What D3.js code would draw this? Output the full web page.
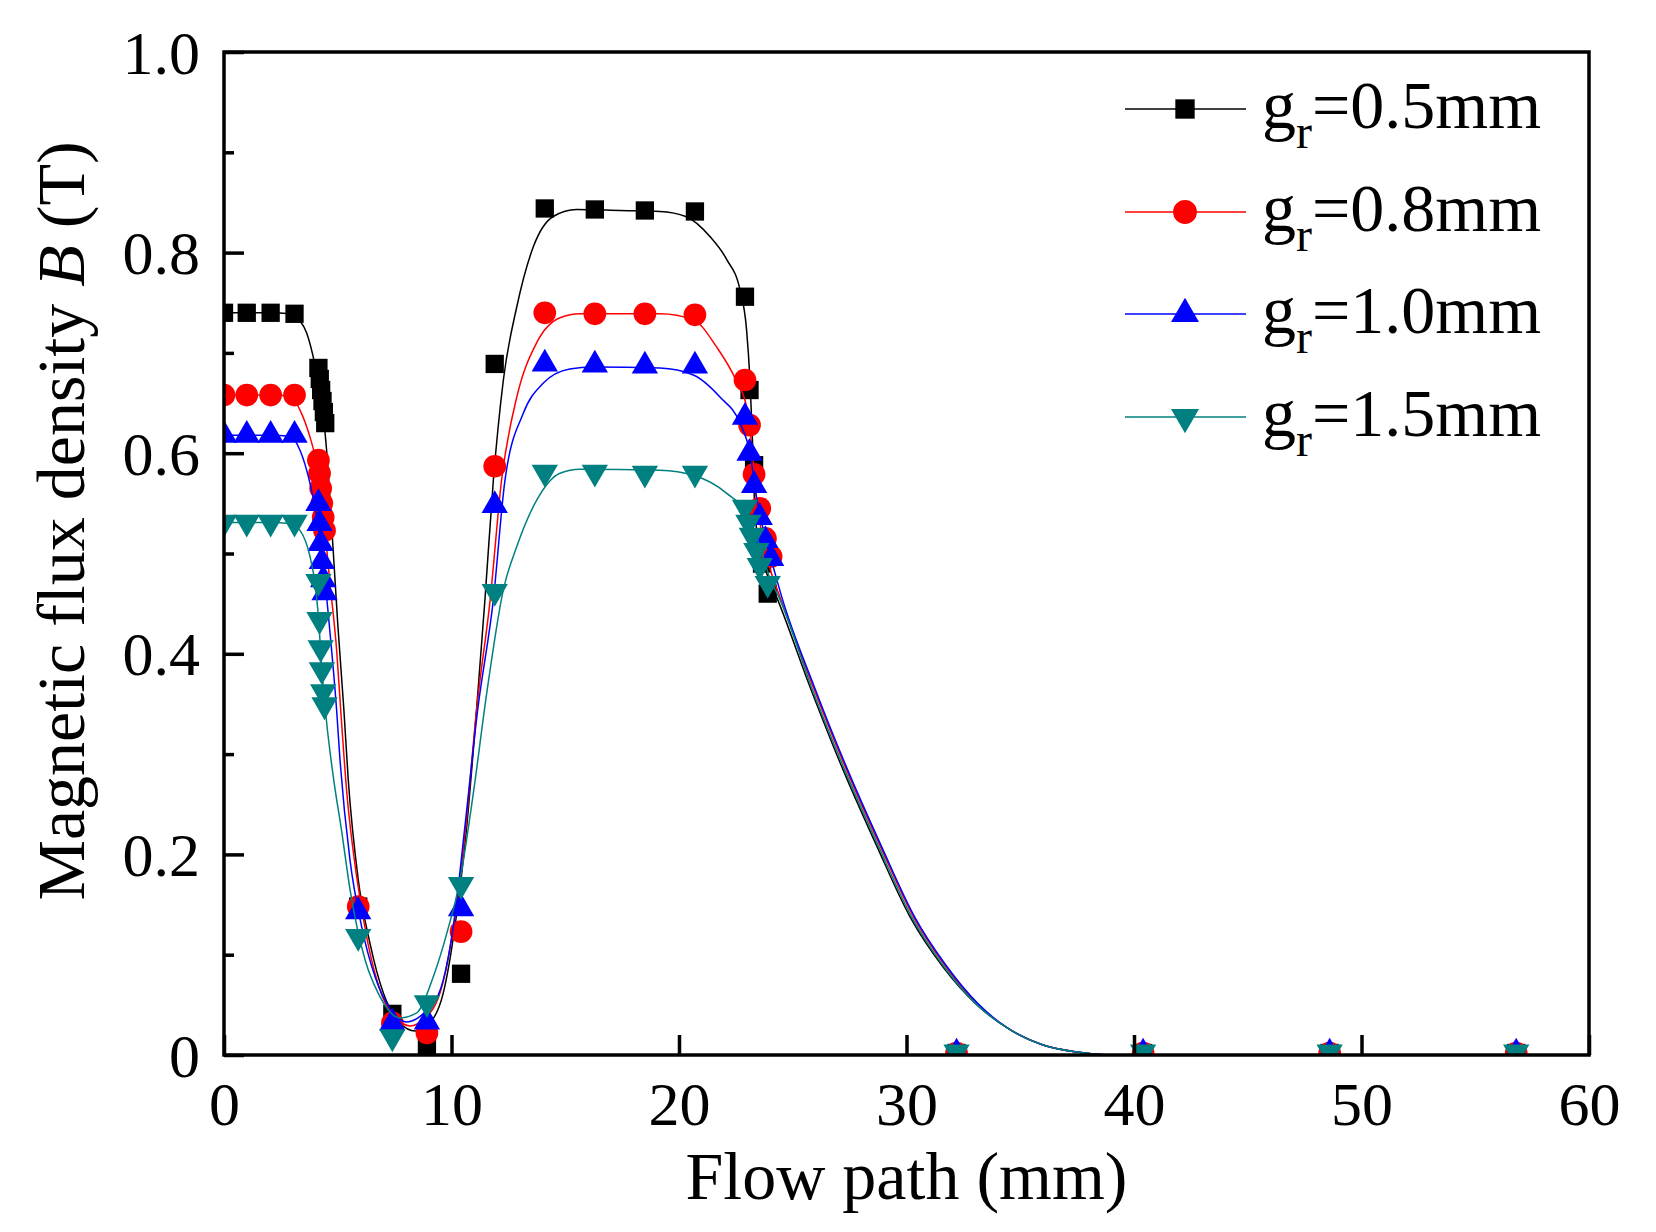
<!DOCTYPE html>
<html>
<head>
<meta charset="utf-8">
<script src="https://cdn.jsdelivr.net/npm/d3@7"></script>
<style>
  body { margin: 0; background: #fff; }
  svg text { font-family: "Liberation Serif", "Times New Roman", serif; fill: #000; }
</style>
</head>
<body>
<svg id="chart" width="1656" height="1232"></svg>
<script>
// Axis ticks
const xTicks = [0, 10, 20, 30, 40, 50, 60];
const yTicks = [0, 0.2, 0.4, 0.6, 0.8, 1.0];
const yMinorTicks = [0.1, 0.3, 0.5, 0.7, 0.9];

// Legend labels (gap g_r)
const gapLabels = ["0.5mm", "0.8mm", "1.0mm", "1.5mm"];

// Measured points [flow path mm, B in T]
const pts05 = [[0,0.740],[1.0,0.740],[2.05,0.740],[3.1,0.739],
  [4.15,0.685],[4.21,0.674],[4.27,0.663],[4.33,0.652],[4.39,0.641],[4.45,0.630],
  [5.9,0.148],[7.4,0.041],[8.92,0.006],[10.42,0.081],[11.9,0.689],
  [14.1,0.844],[16.3,0.843],[18.5,0.842],[20.7,0.841],
  [22.9,0.756],[23.1,0.663],[23.3,0.588],[23.45,0.540],[23.65,0.490],[23.9,0.460],
  [32.2,0.002],[40.4,0.002],[48.6,0.002],[56.8,0.002]];
const pts08 = [[0,0.658],[1.0,0.658],[2.05,0.658],[3.1,0.658],
  [4.15,0.593],[4.2,0.580],[4.25,0.565],[4.3,0.550],[4.36,0.536],[4.42,0.523],
  [5.9,0.148],[7.4,0.032],[8.92,0.022],[10.42,0.123],[11.9,0.587],
  [14.1,0.740],[16.3,0.739],[18.5,0.739],[20.7,0.738],
  [22.9,0.673],[23.1,0.628],[23.3,0.579],[23.55,0.545],[23.8,0.515],[24.05,0.497],
  [32.2,0.002],[40.4,0.002],[48.6,0.002],[56.8,0.002]];
const pts10 = [[0,0.618],[1.0,0.618],[2.05,0.618],[3.1,0.618],
  [4.15,0.550],[4.2,0.530],[4.25,0.510],[4.3,0.492],[4.36,0.474],[4.42,0.461],
  [5.9,0.143],[7.4,0.032],[8.92,0.033],[10.42,0.146],[11.9,0.548],
  [14.1,0.689],[16.3,0.688],[18.5,0.687],[20.7,0.687],
  [22.9,0.636],[23.1,0.600],[23.3,0.568],[23.55,0.536],[23.8,0.513],[24.05,0.495],
  [32.2,0.002],[40.4,0.002],[48.6,0.002],[56.8,0.002]];
const pts15 = [[0,0.531],[1.0,0.531],[2.05,0.531],[3.1,0.531],
  [4.15,0.472],[4.2,0.434],[4.25,0.406],[4.3,0.384],[4.36,0.362],[4.42,0.349],
  [5.9,0.118],[7.4,0.018],[8.92,0.052],[10.42,0.170],[11.9,0.462],
  [14.1,0.581],[16.3,0.581],[18.5,0.580],[20.7,0.580],
  [22.9,0.546],[23.05,0.531],[23.2,0.518],[23.4,0.503],[23.55,0.488],[23.9,0.470],
  [32.2,0.003],[40.4,0.003],[48.6,0.003],[56.8,0.003]];

// Smoothed fit curves
const fit05 = [[0,0.740],[2.0,0.740],[2.9,0.739],[3.3,0.733],[3.63,0.720],[4.0,0.688],[4.29,0.653],
  [4.51,0.603],[4.8,0.503],[5.0,0.430],[5.27,0.344],[5.46,0.275],[5.9,0.175],[6.42,0.111],[7.0,0.062],
  [7.74,0.032],[8.4,0.024],[9.05,0.032],[9.64,0.062],[10.15,0.128],[10.67,0.228],[11.1,0.344],
  [11.47,0.454],[11.84,0.573],[12.28,0.673],[12.87,0.746],[13.6,0.806],[14.47,0.836],[15.5,0.843],
  [17.4,0.842],[19.16,0.841],[20.3,0.836],[21.36,0.816],[22.1,0.793],[22.68,0.763],[22.97,0.723],
  [23.12,0.673],[23.24,0.607],[23.34,0.540],[23.6,0.500],[24.0,0.472],[24.3,0.456],[25.76,0.367],
  [27.2,0.285],[28.7,0.208],[30.15,0.138],[31.6,0.088],[33.1,0.050],[34.5,0.026],[36.0,0.010],
  [37.5,0.003],[39.0,0],[60,0]];
const fit08 = [[0,0.658],[2.0,0.658],[2.9,0.657],[3.34,0.643],[3.78,0.616],[4.07,0.590],[4.37,0.537],
  [4.66,0.470],[4.95,0.404],[5.13,0.344],[5.40,0.261],[5.83,0.178],[6.33,0.111],[6.9,0.062],
  [7.6,0.036],[8.18,0.029],[8.8,0.036],[9.55,0.066],[10.1,0.130],[10.63,0.228],[11.1,0.344],
  [11.7,0.454],[12.2,0.573],[12.87,0.656],[13.74,0.710],[14.77,0.735],[15.65,0.739],[19.16,0.739],
  [20.63,0.733],[21.65,0.706],[22.5,0.673],[22.97,0.646],[23.2,0.607],[23.38,0.560],[23.6,0.525],
  [24.0,0.485],[24.45,0.456],[25.9,0.367],[27.35,0.285],[28.85,0.208],[30.3,0.138],[31.7,0.089],
  [33.1,0.051],[34.5,0.026],[36.0,0.010],[37.5,0.003],[39.0,0],[60,0]];
const fit10 = [[0,0.618],[2.0,0.618],[2.9,0.617],[3.34,0.603],[3.78,0.570],[4.07,0.537],[4.37,0.487],
  [4.66,0.421],[4.95,0.344],[5.1,0.294],[5.54,0.194],[6.05,0.128],[6.64,0.078],[7.3,0.046],
  [8.03,0.033],[8.7,0.040],[9.49,0.064],[10.08,0.128],[10.59,0.228],[11.15,0.344],[11.84,0.454],
  [12.35,0.573],[13.16,0.640],[14.04,0.670],[15.2,0.684],[16.23,0.686],[19.16,0.685],[20.63,0.678],
  [21.8,0.656],[22.68,0.630],[23.12,0.600],[23.4,0.557],[23.8,0.515],[24.2,0.482],[24.5,0.458],
  [25.95,0.367],[27.4,0.285],[28.9,0.208],[30.35,0.138],[31.75,0.089],[33.15,0.051],[34.5,0.026],
  [36.0,0.010],[37.5,0.003],[39.0,0],[60,0]];
const fit15 = [[0,0.531],[2.0,0.531],[2.9,0.530],[3.34,0.523],[3.78,0.497],[4.0,0.470],[4.15,0.437],
  [4.29,0.387],[4.5,0.334],[4.85,0.270],[5.16,0.225],[5.54,0.165],[6.2,0.095],[6.77,0.062],
  [7.74,0.037],[8.47,0.042],[9.2,0.078],[9.79,0.121],[10.37,0.174],[10.96,0.261],[11.55,0.361],
  [12.28,0.464],[12.87,0.507],[13.74,0.553],[14.77,0.580],[15.65,0.584],[19.16,0.583],[20.63,0.578],
  [22.1,0.560],[22.97,0.540],[23.56,0.507],[24.0,0.475],[24.4,0.456],[25.82,0.367],[27.27,0.285],
  [28.77,0.208],[30.22,0.138],[31.65,0.088],[33.1,0.050],[34.5,0.026],[36.0,0.010],[37.5,0.003],
  [39.0,0],[60,0]];

const svg = d3.select("#chart");
const mLeft = 224, mRight = 1589, mTop = 52, mBottom = 1055;

const x = d3.scaleLinear().domain([0, 60]).range([mLeft, mRight]);
const y = d3.scaleLinear().domain([0, 1]).range([mBottom, mTop]);

const series = [
  { label: gapLabels[0], pts: pts05, fit: fit05, color: "#000000", sym: d3.symbolSquare, size: 335, rot: 0 },
  { label: gapLabels[1], pts: pts08, fit: fit08, color: "#ff0000", sym: d3.symbolCircle, size: 405, rot: 0 },
  { label: gapLabels[2], pts: pts10, fit: fit10, color: "#0000ff", sym: d3.symbolTriangle, size: 300, rot: 0 },
  { label: gapLabels[3], pts: pts15, fit: fit15, color: "#008080", sym: d3.symbolTriangle, size: 300, rot: 180 }
];

// clip to the plot frame
svg.append("defs").append("clipPath").attr("id", "plotClip")
  .append("rect").attr("x", mLeft).attr("y", mTop)
  .attr("width", mRight - mLeft).attr("height", mBottom - mTop);

const line = d3.line()
  .x((d) => x(d[0]))
  .y((d) => y(d[1]))
  .curve(d3.curveMonotoneX);

const plot = svg.append("g").attr("clip-path", "url(#plotClip)");

series.forEach((s) => {
  plot.append("path")
    .datum(s.fit)
    .attr("d", line)
    .attr("fill", "none")
    .attr("stroke", s.color)
    .attr("stroke-width", 1.5);

  plot.selectAll(null)
    .data(s.pts)
    .join("path")
    .attr("d", d3.symbol().type(s.sym).size(s.size))
    .attr("transform", (d) => `translate(${x(d[0])},${y(d[1])}) rotate(${s.rot})`)
    .attr("fill", s.color);
});

// Axes (ticks inward)
const fontTick = 62;
const yAxis = svg.append("g")
  .attr("transform", `translate(${mLeft},0)`)
  .call(d3.axisLeft(y).tickValues(yTicks).tickSize(-20).tickPadding(24)
    .tickFormat((d) => (d === 0 ? "0" : d3.format(".1f")(d))));
yAxis.select(".domain").remove();
yAxis.selectAll(".tick line").attr("stroke", "#000").attr("stroke-width", 3.5);
yAxis.selectAll(".tick text").style("font-size", fontTick + "px").attr("dy", "0.34em");

const yMinor = svg.append("g")
  .attr("transform", `translate(${mLeft},0)`)
  .call(d3.axisLeft(y).tickValues(yMinorTicks).tickSize(-10).tickFormat(""));
yMinor.select(".domain").remove();
yMinor.selectAll(".tick line").attr("stroke", "#000").attr("stroke-width", 3.5);

const xAxis = svg.append("g")
  .attr("transform", `translate(0,${mBottom})`)
  .call(d3.axisBottom(x).tickValues(xTicks).tickSize(-20).tickPadding(26));
xAxis.select(".domain").remove();
xAxis.selectAll(".tick line").attr("stroke", "#000").attr("stroke-width", 3.5);
xAxis.selectAll(".tick text").style("font-size", fontTick + "px");

// Frame
svg.append("rect")
  .attr("x", mLeft).attr("y", mTop)
  .attr("width", mRight - mLeft).attr("height", mBottom - mTop)
  .attr("fill", "none").attr("stroke", "#000").attr("stroke-width", 3.5);

// Axis titles
svg.append("text")
  .attr("x", (mLeft + mRight) / 2)
  .attr("y", 1199)
  .attr("text-anchor", "middle")
  .style("font-size", "68px")
  .text("Flow path (mm)");

const yTitle = svg.append("text")
  .attr("transform", "translate(84,521) rotate(-90)")
  .attr("text-anchor", "middle")
  .style("font-size", "68px");
yTitle.append("tspan").text("Magnetic flux density ");
yTitle.append("tspan").style("font-style", "italic").text("B");
yTitle.append("tspan").text(" (T)");

// Legend
const legendRows = [109, 212, 314, 417];
series.forEach((s, i) => {
  const ly = legendRows[i];
  svg.append("line")
    .attr("x1", 1125).attr("x2", 1246)
    .attr("y1", ly).attr("y2", ly)
    .attr("stroke", s.color).attr("stroke-width", 1.5);
  svg.append("path")
    .attr("d", d3.symbol().type(s.sym).size(s.size + 40))
    .attr("transform", `translate(1185,${ly}) rotate(${s.rot})`)
    .attr("fill", s.color);
  const t = svg.append("text")
    .attr("x", 1262).attr("y", ly + 19)
    .style("font-size", "68px");
  t.append("tspan").text("g");
  t.append("tspan").attr("dy", 20).style("font-size", "48px").text("r");
  t.append("tspan").attr("dy", -20).text("=" + s.label);
});
</script>
</body>
</html>
